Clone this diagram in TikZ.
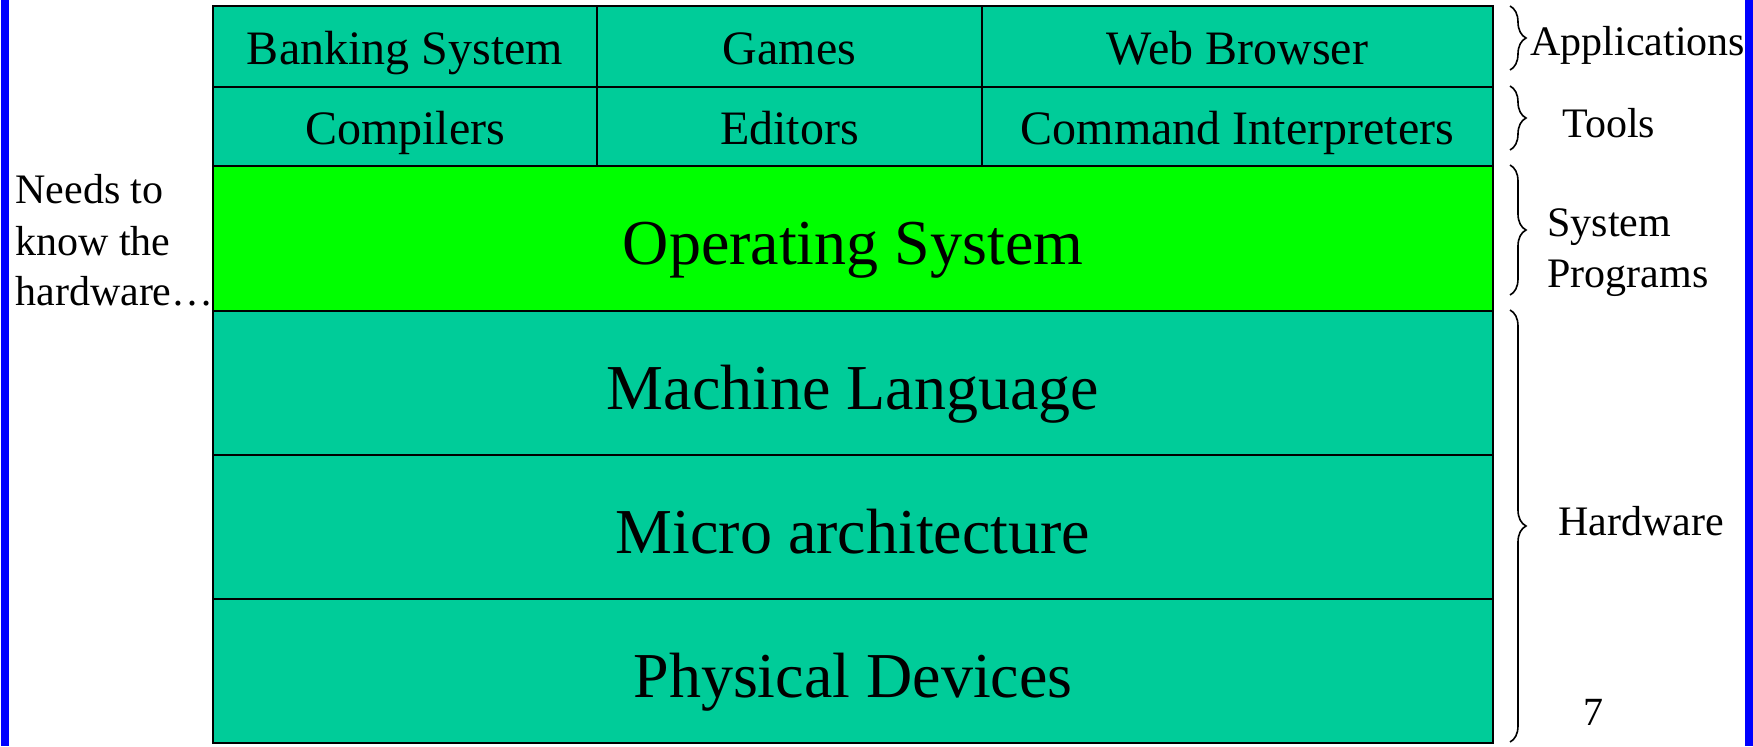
\documentclass[tikz,border=0pt]{standalone}
\usepackage{fontspec}
\setmainfont{Liberation Serif}
\usetikzlibrary{decorations.pathreplacing}
\definecolor{layerteal}{HTML}{00CC99}
\definecolor{osgreen}{HTML}{00FF00}
\definecolor{barblue}{HTML}{0000FF}
\tikzset{
  cell/.style={draw=black, line width=1pt, fill=layerteal, inner sep=0pt, outer sep=0pt,
    font=\fontsize{24pt}{28pt}\selectfont, text height=17.5pt, text depth=0pt},
  layer/.style={cell, font=\fontsize{32pt}{38pt}\selectfont, text height=26pt, text depth=0pt,
    minimum width=640pt, minimum height=72pt},
  lab/.style={font=\fontsize{21pt}{25.5pt}\selectfont, inner sep=0pt, anchor=base west},
  bracebar/.style={decorate, decoration={brace, amplitude=8pt}, line width=0.8pt},
  bar/.style={fill=barblue, draw=none}
}
\begin{document}
\begin{tikzpicture}[x=0.5pt, y=-0.5pt]
\useasboundingbox (0,0) rectangle (1753,746);
\fill[white] (0,0) rectangle (1753,746);
% blue side bars
\path[bar] (1,0) rectangle (9,746);
\path[bar] (1745,0) rectangle (1753,746);

% row 1: applications
\node[cell, minimum width=192pt, minimum height=40.5pt] (bank) at (405,46.5) {Banking System};
\node[cell, minimum width=192.5pt, minimum height=40.5pt] (games) at (789.5,46.5) {Games};
\node[cell, minimum width=255.5pt, minimum height=40.5pt] (web) at (1237.5,46.5) {Web Browser};
% row 2: tools
\node[cell, minimum width=192pt, minimum height=39.5pt] (comp) at (405,126.5) {Compilers};
\node[cell, minimum width=192.5pt, minimum height=39.5pt] (edit) at (789.5,126.5) {Editors};
\node[cell, minimum width=255.5pt, minimum height=39.5pt] (cmd) at (1237.5,126.5) {Command Interpreters};
% big layers
\node[layer, fill=osgreen, minimum height=72.5pt] (os) at (853,238.5) {Operating System};
\node[layer] (ml) at (853,383) {Machine Language};
\node[layer] (micro) at (853,527) {Micro architecture};
\node[layer] (phys) at (853,671) {Physical Devices};

% braces
\draw[bracebar] (1510,6) -- (1510,70);
\draw[bracebar] (1510,86) -- (1510,150);
\draw[bracebar] (1510,165) -- (1510,295);
\draw[bracebar] (1510,310) -- (1510,742);

% right labels
\node[lab] (apps) at (1530,55) {Applications};
\node[lab] (tools) at (1562,137) {Tools};
\node[lab] (sys) at (1547,236) {System};
\node[lab] (prog) at (1547,287) {Programs};
\node[lab] (hw) at (1558,535) {Hardware};
\node[lab, font=\fontsize{20pt}{24pt}\selectfont] (pagenum) at (1583,725) {7};

% left note
\node[lab] (need1) at (15,203) {Needs to};
\node[lab] (need2) at (15,255) {know the};
\node[lab] (need3) at (15,305) {hardware…};
\end{tikzpicture}
\end{document}
